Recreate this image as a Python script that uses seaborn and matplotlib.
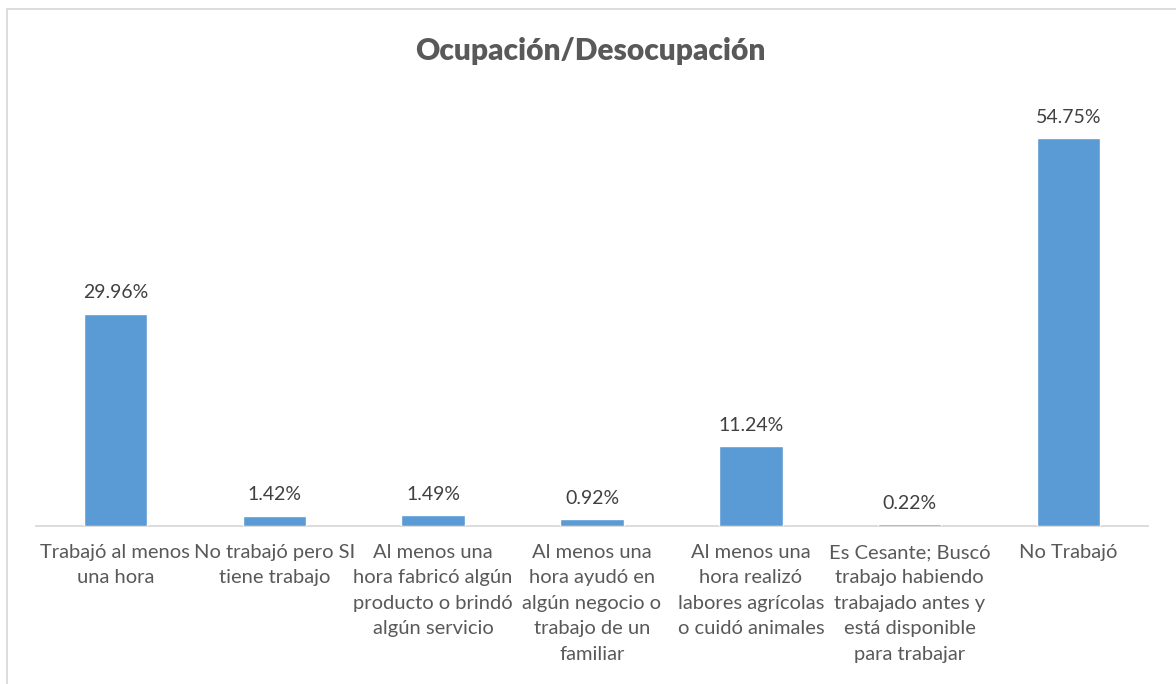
import matplotlib
matplotlib.use("Agg")
import matplotlib.pyplot as plt
import matplotlib.patches as mpatches
import pandas as pd
import seaborn as sns

# Chart data
categories = [
    "Trabajó al menos\nuna hora",
    "No trabajó pero SI\ntiene trabajo",
    "Al menos una\nhora fabricó algún\nproducto o brindó\nalgún servicio",
    "Al menos una\nhora ayudó en\nalgún negocio o\ntrabajo de un\nfamiliar",
    "Al menos una\nhora realizó\nlabores agrícolas\no cuidó animales",
    "Es Cesante; Buscó\ntrabajo habiendo\ntrabajado antes y\nestá disponible\npara trabajar",
    "No Trabajó",
]
values = [29.96, 1.42, 1.49, 0.92, 11.24, 0.22, 54.75]
title = "Ocupación/Desocupación"

BAR_COLOR = "#5B9BD5"
TEXT_COLOR = "#595959"
LABEL_COLOR = "#404040"
GRID_COLOR = "#D9D9D9"

sns.set_theme(style="white")
plt.rcParams["font.family"] = ["Lato", "DejaVu Sans"]

df = pd.DataFrame({"categoria": categories, "valor": values})

W, H = 1176, 684
fig = plt.figure(figsize=(W / 100, H / 100), dpi=100)
ax = fig.add_axes([36 / W, 1 - 526 / H, (1148 - 36) / W, (526 - 101) / H])

sns.barplot(data=df, x="categoria", y="valor", color=BAR_COLOR, width=0.4,
            saturation=1, ax=ax, zorder=3)

ax.set_ylim(0, 60)
ax.set_xlabel("")
ax.set_ylabel("")
ax.set_yticks([])
for side in ["top", "right", "left"]:
    ax.spines[side].set_visible(False)
ax.spines["bottom"].set_color(GRID_COLOR)
ax.spines["bottom"].set_linewidth(1.3)
ax.spines["bottom"].set_zorder(1)
ax.tick_params(axis="x", length=0, pad=13, labelsize=14.5, colors=TEXT_COLOR)
for lbl in ax.get_xticklabels():
    lbl.set_linespacing(1.6)
    lbl.set_verticalalignment("top")

for container in ax.containers:
    ax.bar_label(container, labels=[f"{v:.2f}%" for v in values], padding=9,
                 fontsize=14, color=LABEL_COLOR)

fig.text(590 / W, 1 - 51 / H, title, ha="center", va="center",
         fontsize=21.5, fontweight="heavy", color=TEXT_COLOR)

# outer chart border (cropped at right/bottom)
fig.patches.append(mpatches.Rectangle((6.5 / W, -0.05), 1.1, 1.05 - 8.5 / H,
                                      transform=fig.transFigure, fill=False,
                                      edgecolor=GRID_COLOR, linewidth=1.3))

fig.savefig("out.png", dpi=100)
